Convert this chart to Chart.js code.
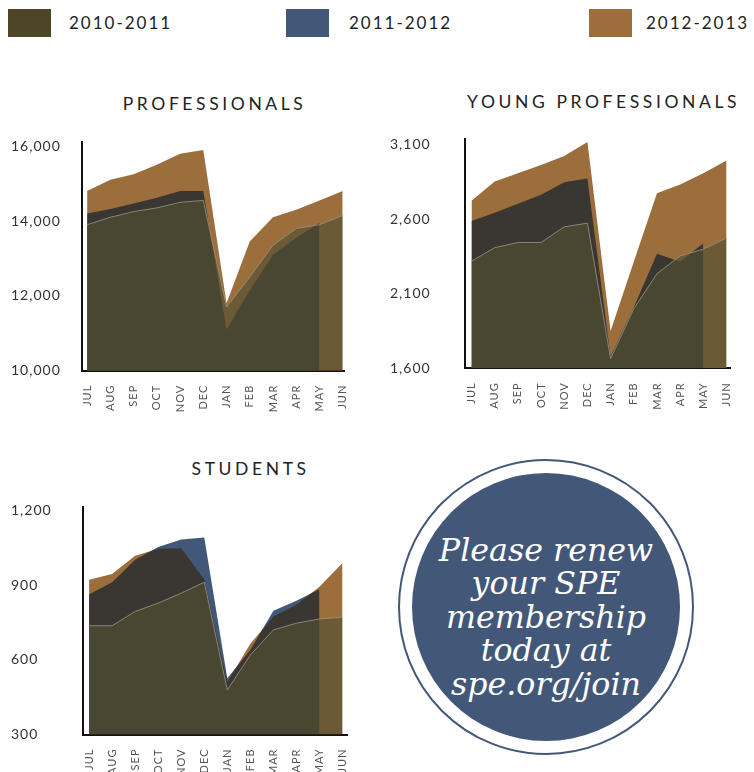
<!DOCTYPE html>
<html>
<head>
<meta charset="utf-8">
<script src="https://cdn.jsdelivr.net/npm/chart.js@4.4.1/dist/chart.umd.min.js"></script>
<style>
body{margin:0;width:754px;height:772px;overflow:hidden;background:#fff;position:relative;font-family:Lato,"Open Sans",sans-serif}
.caja{position:absolute}
.cuadro{position:absolute;top:9px;width:43px;height:28px}
.ley{position:absolute;top:13px;font-size:17px;line-height:20px;letter-spacing:2px;color:#222;white-space:nowrap}
.titulo{position:absolute;width:340px;text-align:center;font-size:17.5px;line-height:20px;letter-spacing:3.6px;padding-left:3.6px;color:#222;white-space:nowrap}
#anillo{position:absolute;left:398px;top:459px;width:292px;height:292px;border:2.5px solid #435879;border-radius:50%}
#disco{position:absolute;left:412px;top:473px;width:268px;height:268px;border-radius:50%;background:#435879}
#mensaje{position:absolute;left:396px;width:300px;top:534px;text-align:center;color:#fff;font-family:"DejaVu Serif",serif;font-style:italic;font-size:31.7px;line-height:33.4px}
</style>
</head>
<body>

<div class="cuadro" style="left:8px;background:#4d4528"></div>
<div class="ley" style="left:69px">2010-2011</div>
<div class="cuadro" style="left:286px;background:#425878"></div>
<div class="ley" style="left:349px">2011-2012</div>
<div class="cuadro" style="left:589px;background:#9c6e3c"></div>
<div class="ley" style="left:646px">2012-2013</div>

<div class="titulo" style="left:41px;top:94px">PROFESSIONALS</div>
<div class="titulo" style="left:430px;top:92px">YOUNG PROFESSIONALS</div>
<div class="titulo" style="left:77px;top:459px">STUDENTS</div>

<div class="caja" style="left:0;top:130px"><canvas id="profesionales" width="370" height="290"></canvas></div>
<div class="caja" style="left:380px;top:126px"><canvas id="jovenes" width="374" height="290"></canvas></div>
<div class="caja" style="left:0;top:494px"><canvas id="estudiantes" width="370" height="290"></canvas></div>

<div id="anillo"></div>
<div id="disco"></div>
<div id="mensaje">Please renew<br>your SPE<br>membership<br>today at<br>spe.org/join</div>

<script>
// ================================
// DATOS
// ================================

const meses = ["JUL","AUG","SEP","OCT","NOV","DEC","JAN","FEB","MAR","APR","MAY","JUN"];
const temporadas = ["2010-2011","2011-2012","2012-2013"];

const profesionales2010 = [13900,14100,14250,14350,14500,14550,11700,12500,13350,13800,13900,14150];
const profesionales2011 = [14200,14320,14470,14620,14800,14800,11100,12150,13100,13550,13950,null];
const profesionales2012 = [14800,15100,15250,15500,15800,15900,11800,13450,14100,14300,14550,14800];
const ticksProfesionales = [10000,12000,14000,16000];

const jovenes2010 = [2320,2410,2445,2445,2550,2575,1665,2000,2235,2355,2400,2475];
const jovenes2011 = [2590,2645,2705,2765,2850,2875,1680,2010,2370,2315,2440,null];
const jovenes2012 = [2725,2855,2910,2965,3025,3120,1850,2315,2775,2835,2910,2995];
const ticksJovenes = [1600,2100,2600,3100];

const estudiantes2010 = [738,738,795,829,869,913,479,620,721,748,765,772];
const estudiantes2011 = [865,913,1003,1055,1085,1093,526,640,798,838,885,null];
const estudiantes2012 = [923,946,1020,1048,1050,925,510,665,775,822,895,990];
const ticksEstudiantes = [300,600,900,1200];

// ================================
// MEZCLA DE CAPAS
// ================================

// 3: naranja normal, 2: azul oscuro solo sobre el naranja,
// 1: azul solo donde no hay nada, 0: oliva encima
const mezcla = {
    id: "mezcla",
    beforeUpdate(chart){ chart.ctx.letterSpacing = "1px"; },
    beforeDraw(chart){
        chart.ctx.letterSpacing = "1px";
        chart.ctx.globalCompositeOperation = "source-over";
    },
    afterDatasetDraw(chart, args){
        const ctx = chart.ctx;
        if(args.index === 3) ctx.globalCompositeOperation = "source-atop";
        if(args.index === 2) ctx.globalCompositeOperation = "destination-over";
        if(args.index === 1) ctx.globalCompositeOperation = "source-over";
    }
};

function puntos(serie){
    return serie.map((v,i) => ({x:i, y:v}));
}

function area(etiqueta, serie, color){
    return {label: etiqueta, data: puntos(serie), fill: "start",
            backgroundColor: color, borderColor: "transparent", borderWidth: 0};
}

function crearGrafico(id, s10, s11, s12, ticksY, maxY, minX, maxX, pad, anchoY, altoX){

    const oliva = area(temporadas[0], s10, "rgba(82,80,50,0.66)");
    oliva.borderColor = "rgba(150,145,128,0.85)";
    oliva.borderWidth = 1;

    return new Chart(document.getElementById(id), {
        type: "line",
        data: {
            datasets: [
                oliva,
                area(temporadas[1], s11, "#425878"),
                area(temporadas[1], s11, "#3a3631"),
                area(temporadas[2], s12, "#9c6e3c")
            ]
        },
        options: {
            responsive: false,
            animation: false,
            layout: {padding: pad},
            elements: {point: {radius: 0}, line: {tension: 0}},
            plugins: {legend: {display: false}, tooltip: {enabled: false}},
            scales: {
                x: {
                    type: "linear", min: minX, max: maxX, z: 1,
                    grid: {display: false, drawTicks: false},
                    border: {display: true, color: "#111", width: 2},
                    afterBuildTicks: s => { s.ticks = meses.map((m,i) => ({value: i})); },
                    afterFit: s => { s.height = altoX; },
                    ticks: {
                        autoSkip: false, maxRotation: 90, minRotation: 90, padding: 14,
                        color: "#555", font: {family: "Lato", size: 11},
                        callback: v => meses[v]
                    }
                },
                y: {
                    min: ticksY[0], max: maxY, z: 1,
                    grid: {display: false, drawTicks: false},
                    border: {display: true, color: "#111", width: 2},
                    afterBuildTicks: s => { s.ticks = ticksY.map(v => ({value: v})); },
                    afterFit: s => { s.width = anchoY; },
                    ticks: {
                        crossAlign: "far", padding: 4,
                        color: "#333", font: {family: "Lato", size: 14},
                        callback: v => v.toLocaleString("en-US")
                    }
                }
            }
        },
        plugins: [mezcla]
    });
}

crearGrafico("profesionales", profesionales2010, profesionales2011, profesionales2012,
    ticksProfesionales, 16100, -0.22, 11.08, {left:11, right:17, top:12.4, bottom:0}, 71, 49.3);

crearGrafico("jovenes", jovenes2010, jovenes2011, jovenes2012,
    ticksJovenes, 3140, -0.28, 11.18, {left:10, right:18, top:13, bottom:0}, 75, 47.7);

crearGrafico("estudiantes", estudiantes2010, estudiantes2011, estudiantes2012,
    ticksEstudiantes, 1217, -0.25, 11.21, {left:11, right:16, top:12.7, bottom:0}, 72.3, 49.5);
</script>
</body>
</html>
